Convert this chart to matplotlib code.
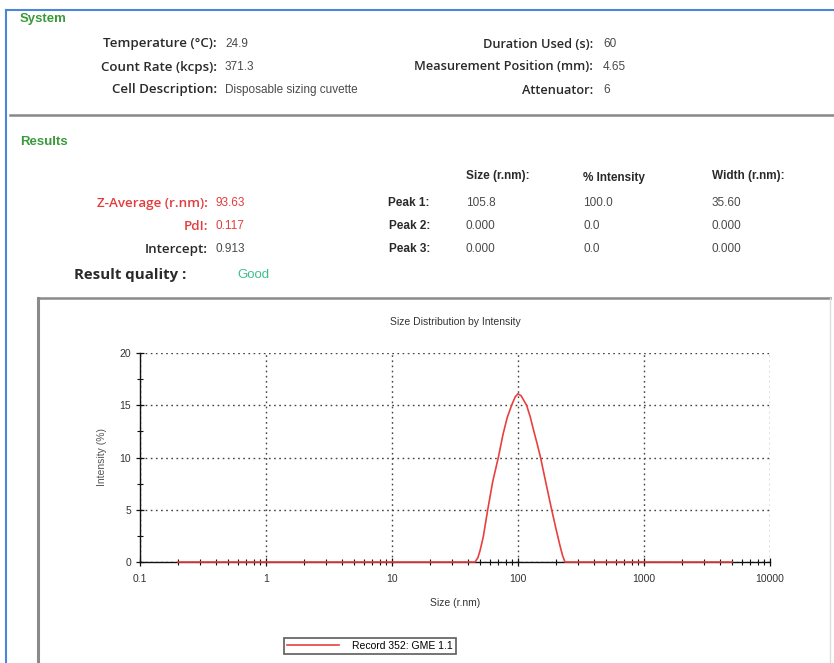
import numpy as np
import matplotlib.pyplot as plt
from matplotlib.ticker import LogLocator, MultipleLocator, FixedLocator, FixedFormatter
from matplotlib.lines import Line2D

# Size distribution (radius, nm) and intensity (%)
SIZE_NM = [0.2, 45.6, 48.0, 50.0, 53.0, 57.5, 63.0, 69.8, 76.0, 82.0, 89.0,
           95.0, 100.0, 106.0, 117.0, 125.0, 133.0, 142.0, 151.0, 167.0,
           185.0, 200.0, 215.0, 226.0, 236.0, 5000.0]
INTENSITY = [0.0, 0.0, 0.4, 1.1, 2.4, 5.0, 7.7, 10.0, 12.2, 13.8, 15.0,
             15.8, 16.1, 15.9, 15.0, 13.9, 12.6, 11.3, 10.0, 7.5,
             5.0, 3.2, 1.6, 0.6, 0.0, 0.0]

X_TICKS = [0.1, 1, 10, 100, 1000, 10000]
X_TICK_LABELS = ["0.1", "1", "10", "100", "1000", "10000"]
Y_TICKS = [0, 5, 10, 15, 20]

SYSTEM_LEFT = [("Temperature (°C):", "24.9"),
               ("Count Rate (kcps):", "371.3"),
               ("Cell Description:", "Disposable sizing cuvette")]
SYSTEM_RIGHT = [("Duration Used (s):", "60"),
                ("Measurement Position (mm):", "4.65"),
                ("Attenuator:", "6")]
RESULTS_LEFT = [("Z-Average (r.nm):", "93.63", "red"),
                ("PdI:", "0.117", "red"),
                ("Intercept:", "0.913", "black")]
PEAK_NAMES = ["Peak 1:", "Peak 2:", "Peak 3:"]
PEAK_SIZE = ["105.8", "0.000", "0.000"]
PEAK_INT = ["100.0", "0.0", "0.0"]
PEAK_WIDTH = ["35.60", "0.000", "0.000"]

W, H = 834, 663
plt.rcParams['font.family'] = ['Liberation Sans', 'DejaVu Sans']

GREEN = '#3a9a3a'
RED = '#e23c3c'
LABEL_C = '#2a2a2a'
VALUE_C = '#4a4a4a'
WIDE = ['Open Sans', 'DejaVu Sans']


def fx(x):
    return x / W


def fy(y):
    return 1 - y / H


fig = plt.figure(figsize=(W / 100, H / 100), dpi=100)

# outer blue frame and grey separators
fig.add_artist(Line2D([fx(6), 1], [fy(10), fy(10)], color='#4a86d8', lw=1.5))
fig.add_artist(Line2D([fx(6), fx(6)], [fy(10), 0], color='#4a86d8', lw=1.5))
fig.add_artist(Line2D([fx(10), 1], [fy(115), fy(115)], color='#888888', lw=1.8))
# chart box
fig.add_artist(Line2D([fx(38), fx(38)], [fy(298), 0], color='#8a8a8a', lw=2.2))
fig.add_artist(Line2D([fx(38), fx(830)], [fy(298), fy(298)], color='#8a8a8a', lw=1.8))
fig.add_artist(Line2D([fx(830), fx(830)], [fy(298), 0], color='#dddddd', lw=1.0))

FS = 8.5
LFS = 9.6

# System block
fig.text(fx(20), fy(19), "System", color=GREEN, fontsize=9.5, fontweight='bold', va='center')
for i, (lab, val) in enumerate(SYSTEM_LEFT):
    y = fy(44 + 23 * i)
    fig.text(fx(217), y, lab, ha='right', va='center', fontsize=LFS, color=LABEL_C,
             fontweight='semibold', family=WIDE)
    fig.text(fx(225), y, val, ha='left', va='center', fontsize=FS, color=VALUE_C)
for i, (lab, val) in enumerate(SYSTEM_RIGHT):
    y = fy(44 + 23 * i)
    fig.text(fx(593), y, lab, ha='right', va='center', fontsize=LFS - 0.4, color=LABEL_C,
             fontweight='semibold', family=WIDE)
    fig.text(fx(603), y, val, ha='left', va='center', fontsize=FS, color=VALUE_C)

# Results block
fig.text(fx(20), fy(142), "Results", color=GREEN, fontsize=9.5, fontweight='bold', va='center')
fig.text(fx(466), fy(176), "Size (r.nm):", fontsize=FS, color=LABEL_C, fontweight='bold', va='center')
fig.text(fx(583), fy(178), "% Intensity", fontsize=FS, color=LABEL_C, fontweight='bold', va='center')
fig.text(fx(712), fy(176), "Width (r.nm):", fontsize=FS, color=LABEL_C, fontweight='bold', va='center')
for i, (lab, val, c) in enumerate(RESULTS_LEFT):
    y = fy(203 + 23 * i)
    col = RED if c == 'red' else LABEL_C
    vcol = RED if c == 'red' else VALUE_C
    fig.text(fx(208), y, lab, ha='right', va='center', fontsize=LFS, color=col,
             fontweight='semibold', family=WIDE)
    fig.text(fx(216), y, val, ha='left', va='center', fontsize=FS, color=vcol)
for i in range(3):
    y = fy(203 + 23 * i)
    fig.text(fx(430), y, PEAK_NAMES[i], ha='right', va='center', fontsize=FS, color=LABEL_C, fontweight='bold')
    fig.text(fx(466), y, PEAK_SIZE[i], ha='left', va='center', fontsize=FS, color=VALUE_C)
    fig.text(fx(583), y, PEAK_INT[i], ha='left', va='center', fontsize=FS, color=VALUE_C)
    fig.text(fx(712), y, PEAK_WIDTH[i], ha='left', va='center', fontsize=FS, color=VALUE_C)
fig.text(fx(186), fy(275), "Result quality :", ha='right', va='center', fontsize=10.8,
         color=LABEL_C, fontweight='bold', family=WIDE)
fig.text(fx(237), fy(275), "Good", ha='left', va='center', fontsize=9.5, color='#3cc08a')

# Chart
ax = fig.add_axes([fx(140), fy(562), fx(770) - fx(140), fy(353) - fy(562)])
line, = ax.plot(SIZE_NM, INTENSITY, color='#e84040', lw=1.2, zorder=5, clip_on=False)
ax.set_xscale('log')
ax.set_xlim(0.1, 10000)
ax.set_ylim(0, 20)

ax.xaxis.set_major_locator(FixedLocator(X_TICKS))
ax.xaxis.set_major_formatter(FixedFormatter(X_TICK_LABELS))
ax.xaxis.set_minor_locator(LogLocator(base=10, subs=np.arange(2, 10), numticks=20))
ax.yaxis.set_major_locator(FixedLocator(Y_TICKS))
ax.yaxis.set_minor_locator(MultipleLocator(2.5))

ax.tick_params(which='both', direction='inout', colors='#111111', labelcolor='#333333',
               labelsize=7.5)
ax.tick_params(which='major', length=6, width=0.9)
ax.tick_params(which='minor', length=4, width=0.8)
ax.tick_params(axis='x', which='major', pad=6)
ax.tick_params(axis='x', which='minor', labelbottom=False)

for s in ['top', 'right']:
    ax.spines[s].set_visible(False)
for s in ['left', 'bottom']:
    ax.spines[s].set_color('#111111')
    ax.spines[s].set_linewidth(1.0)

ax.grid(True, which='major', linestyle=(0, (1.2, 2.5)), color='#444444', lw=1.0)

ax.set_title("Size Distribution by Intensity", fontsize=7.5, color='#333333', pad=20)
ax.set_xlabel("Size (r.nm)", fontsize=7.5, color='#333333', labelpad=10)
ax.set_ylabel("Intensity (%)", fontsize=7.5, color='#555555', labelpad=9)

leg = fig.legend([line], ["Record 352: GME 1.1"], loc='center',
                 bbox_to_anchor=(fx(370), fy(646)), fontsize=7.5, frameon=True,
                 fancybox=False, edgecolor='#333333', handlelength=5,
                 borderpad=0.3, handletextpad=1.2)
leg.get_frame().set_linewidth(1.2)

fig.savefig("out.png", dpi=100)
